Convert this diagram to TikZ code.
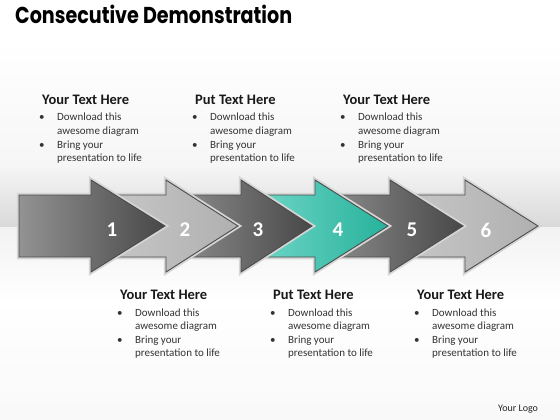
\documentclass[tikz,border=0pt]{standalone}
\usepackage{fontspec}
\setmainfont{Carlito}
\newfontfamily\titlefont{Poppins}
\usepackage{graphicx}
\definecolor{tealL}{RGB}{120,218,204}
\definecolor{tealR}{RGB}{38,178,156}
\tikzset{
  rim/.style={draw=gray!32, line width=4.5pt, line join=miter},
  edge/.style={draw=black!70, line width=0.9pt, line join=miter},
  darkarrow/.style={left color=gray!85, right color=black!72},
  lightarrow/.style={left color=gray!42, right color=gray!62},
  tealarrow/.style={left color=tealL, right color=tealR},
  num/.style={text=white, font=\bfseries\fontsize{21}{23}\selectfont, inner sep=0pt},
  head/.style={font=\bfseries\fontsize{14.5}{16}\selectfont, anchor=base west, inner sep=0pt, text=black!90},
  bul/.style={font=\fontsize{11}{12}\selectfont, anchor=base west, inner sep=0pt, text=black!80},
}
\newcommand\arrowpiece[6]{% #1 x0, #2 notch, #3 tip, #4 style, #5 number, #6 num x
  \draw[rim] (#1,195) -- (#2,195) -- (#2,180) -- (#3,226) -- (#2,272) -- (#2,257) -- (#1,257) -- cycle;
  \shade[#4] (#1,195) -- (#2,195) -- (#2,180) -- (#3,226) -- (#2,272) -- (#2,257) -- (#1,257) -- cycle;
  \draw[edge] (#1,195) -- (#2,195) -- (#2,180) -- (#3,226) -- (#2,272) -- (#2,257) -- (#1,257) -- cycle;
  \node[num] (n#5) at (#6,230) {#5};
}
\newcommand\tblock[4]{% #1 name, #2 heading left x, #3 heading baseline y, #4 heading
  \node[head] (#1h) at (#2,#3) {#4};
  \node[bul] (#1b1) at (#2-3,#3+17) {\textbullet};
  \node[bul] (#1l1) at (#2+15,#3+17) {Download this};
  \node[bul] (#1l2) at (#2+15,#3+30.5) {awesome diagram};
  \node[bul] (#1b2) at (#2-3,#3+44) {\textbullet};
  \node[bul] (#1l3) at (#2+15,#3+44) {Bring your};
  \node[bul] (#1l4) at (#2+15,#3+57.5) {presentation to life};
}
\begin{document}
\begin{tikzpicture}[x=1pt,y=-1pt]
\useasboundingbox (0,0) rectangle (560,420);
% background
\fill[white] (0,0) rectangle (560,420);
\shade[top color=white, bottom color=gray!7] (0,40) rectangle (560,165);
\shade[top color=gray!7, bottom color=gray!30] (0,165) rectangle (560,227);
\shade[top color=gray!10, bottom color=white] (0,227) rectangle (560,300);
\shade[top color=white, bottom color=gray!5] (0,300) rectangle (560,420);
% title
\node[anchor=base west, inner sep=0pt] (title) at (15,24)
  {\resizebox{277pt}{\height}{\titlefont\bfseries\fontsize{23}{25}\selectfont Consecutive Demonstration}};
% arrows, drawn from right to left
\arrowpiece{390}{465}{538}{lightarrow}{6}{486}
\arrowpiece{315}{390}{463}{darkarrow}{5}{412}
\arrowpiece{241}{315}{388}{tealarrow}{4}{338}
\arrowpiece{166}{241}{312}{darkarrow}{3}{258}
\arrowpiece{91}{166}{238}{lightarrow}{2}{185}
\arrowpiece{19}{91}{165}{darkarrow}{1}{112}
% text blocks
\tblock{ta}{42}{104}{Your Text Here}
\tblock{tb}{195}{104}{Put Text Here}
\tblock{tc}{343}{104}{Your Text Here}
\tblock{ba}{120}{299}{Your Text Here}
\tblock{bb}{273}{299}{Put Text Here}
\tblock{bc}{417}{299}{Your Text Here}
\node[anchor=base west, inner sep=0pt, font=\fontsize{10}{12}\selectfont, text=black!85] (logo) at (498,411) {Your Logo};
\end{tikzpicture}
\end{document}
